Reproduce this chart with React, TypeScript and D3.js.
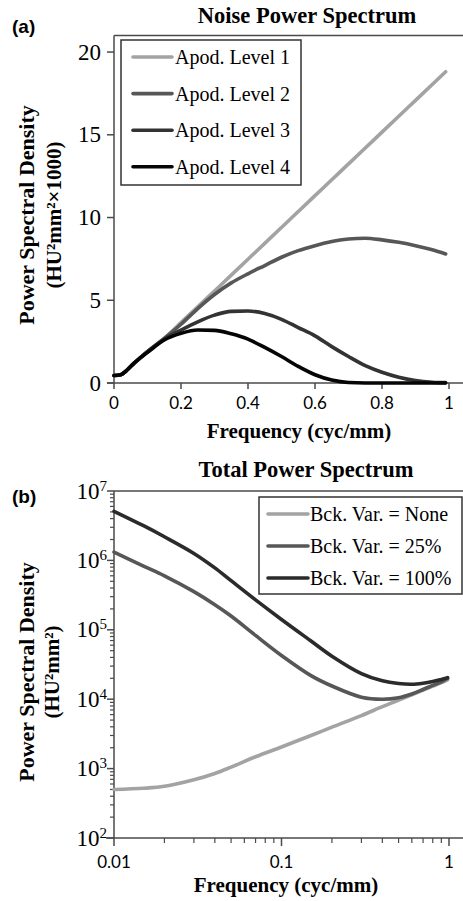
import { useEffect, useRef } from 'react';
import * as d3 from 'd3';

// panel (a): noise power spectrum, values in HU²mm² × 1000
const freqA = [0, 0.02, 0.04, 0.06, 0.08, 0.1, 0.15, 0.2, 0.25, 0.3, 0.35, 0.4, 0.45, 0.5, 0.55, 0.6, 0.65, 0.7, 0.75, 0.8, 0.85, 0.9, 0.95, 0.99];
const apod1 = [0.45, 0.5, 0.8, 1.2, 1.55, 1.9, 2.7, 3.65, 4.6, 5.56, 6.52, 7.48, 8.44, 9.4, 10.36, 11.32, 12.28, 13.24, 14.2, 15.16, 16.12, 17.08, 18.04, 18.81];
const apod2 = [0.45, 0.5, 0.8, 1.2, 1.55, 1.9, 2.7, 3.55, 4.5, 5.35, 6.05, 6.6, 7.1, 7.6, 8.0, 8.3, 8.55, 8.7, 8.75, 8.65, 8.5, 8.3, 8.05, 7.8];
const apod3 = [0.45, 0.5, 0.8, 1.2, 1.55, 1.9, 2.65, 3.2, 3.7, 4.1, 4.33, 4.35, 4.2, 3.85, 3.35, 2.85, 2.2, 1.6, 1.05, 0.65, 0.35, 0.15, 0.05, 0.02];
const apod4 = [0.45, 0.5, 0.8, 1.2, 1.55, 1.85, 2.6, 3.0, 3.2, 3.18, 2.97, 2.65, 2.15, 1.6, 1.0, 0.5, 0.18, 0.03, 0, 0, 0, 0, 0, 0];
const apodLabels = ['Apod. Level 1', 'Apod. Level 2', 'Apod. Level 3', 'Apod. Level 4'];
const apodColors = ['#a3a3a3', '#575757', '#333333', '#050505'];
const xTicksA = [0, 0.2, 0.4, 0.6, 0.8, 1];
const yTicksA = [0, 5, 10, 15, 20];

// panel (b): total power spectrum, HU²mm²
const freqB = [0.01, 0.015, 0.02, 0.03, 0.04, 0.05, 0.07, 0.1, 0.15, 0.2, 0.3, 0.4, 0.5, 0.6, 0.7, 0.8, 0.9, 0.98];
const bckNone = [500, 520, 555, 690, 850, 1050, 1480, 2050, 3000, 3950, 5800, 7800, 9700, 11600, 13500, 15400, 17300, 19000];
const bck25 = [1.32e6, 8.3e5, 6.0e5, 3.55e5, 2.3e5, 1.58e5, 8.3e4, 4.27e4, 2.19e4, 1.55e4, 1.07e4, 1.0e4, 1.05e4, 1.19e4, 1.38e4, 1.58e4, 1.78e4, 2.0e4];
const bck100 = [5.1e6, 3.16e6, 2.19e6, 1.26e6, 7.8e5, 5.1e5, 2.7e5, 1.41e5, 6.9e4, 4.17e4, 2.34e4, 1.84e4, 1.68e4, 1.64e4, 1.7e4, 1.8e4, 1.93e4, 2.04e4];
const bckLabels = ['Bck. Var. = None', 'Bck. Var. = 25%', 'Bck. Var. = 100%'];
const bckColors = ['#a3a3a3', '#575757', '#2b2b2b'];
const xTicksB = [0.01, 0.1, 1];
const yExpB = [2, 3, 4, 5, 6, 7];

const SERIF = '"Liberation Serif", "Times New Roman", serif';
const SANS = 'Lato, "Open Sans", sans-serif';
const ARIAL = '"Liberation Sans", Arial, sans-serif';
const AXIS = '#4a4a4a';

export default function App() {
  const ref = useRef<SVGSVGElement>(null);

  useEffect(() => {
    if (!ref.current) return;
    const svg = d3.select(ref.current);
    svg.selectAll('*').remove();

    const yTitle = (cx: number, cy: number, line2: string) => {
      const t = svg.append('g').attr('transform', `translate(0,${cy}) rotate(-90)`);
      t.append('text').attr('x', 0).attr('y', 34).attr('text-anchor', 'middle')
        .attr('font-family', SERIF).attr('font-weight', 'bold').attr('font-size', 22).text('Power Spectral Density');
      t.append('text').attr('x', 0).attr('y', cx).attr('text-anchor', 'middle')
        .attr('font-family', SERIF).attr('font-weight', 'bold').attr('font-size', 21).text(line2);
    };

    // ---------- panel (a)
    const xA = d3.scaleLinear().domain([0, 1.04]).range([114, 462.4]);
    const yA = d3.scaleLinear().domain([0, 21]).range([383, 35.5]);

    svg.append('text').attr('x', 307).attr('y', 23).attr('text-anchor', 'middle')
      .attr('font-family', SERIF).attr('font-weight', 'bold').attr('font-size', 22.5).text('Noise Power Spectrum');
    svg.append('text').attr('x', 12).attr('y', 33).attr('font-family', ARIAL)
      .attr('font-weight', 'bold').attr('font-size', 19).text('(a)');

    const gA = svg.append('g');
    gA.append('line').attr('x1', xA(0)).attr('x2', 463).attr('y1', yA(21)).attr('y2', yA(21)).attr('stroke', AXIS).attr('stroke-width', 1.5);
    gA.append('line').attr('x1', xA(0)).attr('x2', xA(0)).attr('y1', yA(21)).attr('y2', yA(0)).attr('stroke', AXIS).attr('stroke-width', 1.5);
    gA.append('line').attr('x1', xA(0) - 7).attr('x2', 463).attr('y1', yA(0)).attr('y2', yA(0)).attr('stroke', AXIS).attr('stroke-width', 1.5);

    yTicksA.forEach((v) => {
      gA.append('line').attr('x1', xA(0) - 7).attr('x2', xA(0)).attr('y1', yA(v)).attr('y2', yA(v)).attr('stroke', AXIS).attr('stroke-width', 1.5);
      gA.append('text').attr('x', 101).attr('y', yA(v) + 7.5).attr('text-anchor', 'end')
        .attr('font-family', SERIF).attr('font-size', 23).text(String(v));
    });
    xTicksA.forEach((v) => {
      gA.append('line').attr('x1', xA(v)).attr('x2', xA(v)).attr('y1', yA(0)).attr('y2', yA(0) + 6).attr('stroke', AXIS).attr('stroke-width', 1.5);
      gA.append('text').attr('x', xA(v)).attr('y', 409).attr('text-anchor', 'middle')
        .attr('font-family', SANS).attr('font-size', 17).text(String(v));
    });
    svg.append('text').attr('x', 299).attr('y', 438).attr('text-anchor', 'middle')
      .attr('font-family', SERIF).attr('font-weight', 'bold').attr('font-size', 21).text('Frequency (cyc/mm)');
    yTitle(61, 215, '(HU²mm²×1000)');

    const lineA = d3.line<number>().x((_, i) => xA(freqA[i])).y((d) => yA(d)).curve(d3.curveMonotoneX);
    [apod1, apod2, apod3, apod4].forEach((s, k) => {
      gA.append('path').datum(s).attr('fill', 'none').attr('stroke', apodColors[k])
        .attr('stroke-width', 3.6).attr('stroke-linecap', 'round').attr('d', lineA);
    });

    // legend (a)
    const lgA = svg.append('g');
    lgA.append('rect').attr('x', 121).attr('y', 40).attr('width', 180).attr('height', 145)
      .attr('fill', '#fff').attr('stroke', '#333').attr('stroke-width', 1.5);
    apodLabels.forEach((lab, k) => {
      const y = 57 + k * 36.6;
      lgA.append('line').attr('x1', 133).attr('x2', 172).attr('y1', y).attr('y2', y)
        .attr('stroke', apodColors[k]).attr('stroke-width', 3.6).attr('stroke-linecap', 'round');
      lgA.append('text').attr('x', 175).attr('y', y + 7).attr('font-family', SERIF).attr('font-size', 20).text(lab);
    });

    // ---------- panel (b)
    const xB = d3.scaleLog().domain([0.01, 1]).range([114, 449]);
    const yB = d3.scaleLog().domain([100, 1e7]).range([838, 491]);

    svg.append('text').attr('x', 306).attr('y', 477).attr('text-anchor', 'middle')
      .attr('font-family', SERIF).attr('font-weight', 'bold').attr('font-size', 22.5).text('Total Power Spectrum');
    svg.append('text').attr('x', 12).attr('y', 503).attr('font-family', ARIAL)
      .attr('font-weight', 'bold').attr('font-size', 19).text('(b)');

    const gB = svg.append('g');
    gB.append('line').attr('x1', 114).attr('x2', 463).attr('y1', yB(1e7)).attr('y2', yB(1e7)).attr('stroke', AXIS).attr('stroke-width', 1.5);
    gB.append('line').attr('x1', 114).attr('x2', 114).attr('y1', yB(1e7)).attr('y2', yB(100)).attr('stroke', AXIS).attr('stroke-width', 1.5);
    gB.append('line').attr('x1', 106).attr('x2', 463).attr('y1', yB(100)).attr('y2', yB(100)).attr('stroke', AXIS).attr('stroke-width', 1.5);

    yExpB.forEach((e) => {
      const v = Math.pow(10, e);
      gB.append('line').attr('x1', 107).attr('x2', 114).attr('y1', yB(v)).attr('y2', yB(v)).attr('stroke', AXIS).attr('stroke-width', 1.5);
      const t = gB.append('text').attr('x', 107).attr('y', yB(v) + 7.5).attr('text-anchor', 'end')
        .attr('font-family', SERIF).attr('font-size', 23);
      t.append('tspan').text('10');
      t.append('tspan').attr('font-size', 15).attr('dy', -8).text(String(e));
      if (e < 7) {
        d3.range(2, 10).forEach((m) => {
          gB.append('line').attr('x1', 110).attr('x2', 114).attr('y1', yB(m * v)).attr('y2', yB(m * v)).attr('stroke', AXIS).attr('stroke-width', 1.2);
        });
      }
    });
    xTicksB.forEach((v, k) => {
      gB.append('line').attr('x1', xB(v)).attr('x2', xB(v)).attr('y1', yB(100)).attr('y2', yB(100) + 8).attr('stroke', AXIS).attr('stroke-width', 1.5);
      gB.append('text').attr('x', xB(v)).attr('y', 868).attr('text-anchor', 'middle')
        .attr('font-family', SANS).attr('font-size', 17).text(String(v));
      if (k < xTicksB.length - 1) {
        d3.range(2, 10).forEach((m) => {
          gB.append('line').attr('x1', xB(m * v)).attr('x2', xB(m * v)).attr('y1', yB(100)).attr('y2', yB(100) + 5).attr('stroke', AXIS).attr('stroke-width', 1.2);
        });
      }
    });
    svg.append('text').attr('x', 286).attr('y', 892).attr('text-anchor', 'middle')
      .attr('font-family', SERIF).attr('font-weight', 'bold').attr('font-size', 21).text('Frequency (cyc/mm)');
    yTitle(59, 672, '(HU²mm²)');

    const lineB = d3.line<number>().x((_, i) => xB(freqB[i])).y((d) => yB(d)).curve(d3.curveCatmullRom.alpha(0.5));
    [bckNone, bck25, bck100].forEach((s, k) => {
      gB.append('path').datum(s).attr('fill', 'none').attr('stroke', bckColors[k])
        .attr('stroke-width', 3.6).attr('stroke-linecap', 'round').attr('d', lineB);
    });

    // legend (b)
    const lgB = svg.append('g');
    lgB.append('rect').attr('x', 259).attr('y', 497).attr('width', 203).attr('height', 97)
      .attr('fill', '#fff').attr('stroke', '#333').attr('stroke-width', 1.5);
    bckLabels.forEach((lab, k) => {
      const y = 514 + k * 32;
      lgB.append('line').attr('x1', 268).attr('x2', 308).attr('y1', y).attr('y2', y)
        .attr('stroke', bckColors[k]).attr('stroke-width', 3.6).attr('stroke-linecap', 'round');
      lgB.append('text').attr('x', 310).attr('y', y + 7).attr('font-family', SERIF).attr('font-size', 20).text(lab);
    });
  }, []);

  return (
    <svg
      ref={ref}
      width={463}
      height={901}
      style={{ position: 'absolute', left: 0, top: 0, background: '#fff' }}
      role="img"
      aria-label="Noise and total power spectrum"
    />
  );
}
